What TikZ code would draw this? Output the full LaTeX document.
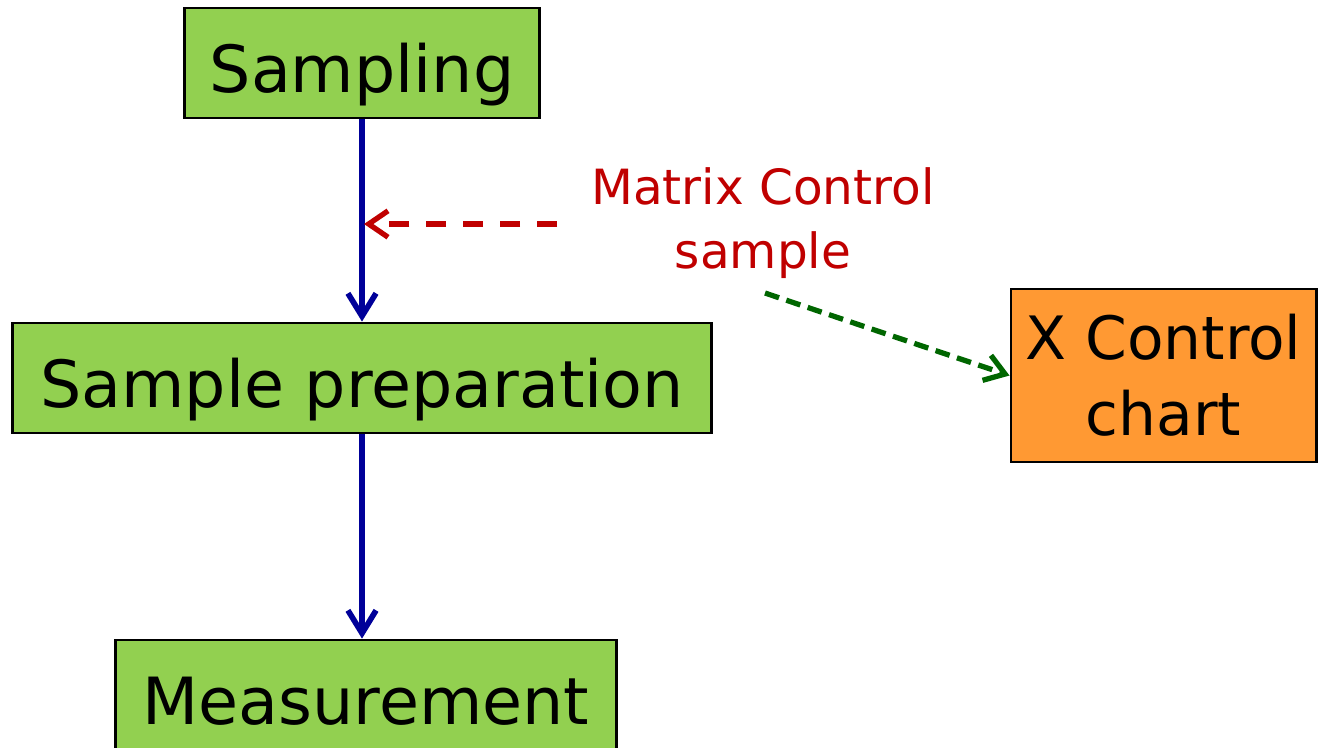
\documentclass[tikz,border=0pt]{standalone}
\usepackage{fontspec}
\setmainfont{DejaVu Sans}
\usetikzlibrary{arrows.meta}
\definecolor{boxgreen}{HTML}{92D050}
\definecolor{boxorange}{HTML}{FF9933}
\definecolor{flowblue}{HTML}{000099}
\definecolor{matrixred}{HTML}{C00000}
\definecolor{chartgreen}{HTML}{006600}
\begin{document}
\begin{tikzpicture}[x=0.01cm,y=-0.01cm,
    stepbox/.style={draw=black,line width=0.8pt,fill=boxgreen,inner sep=0pt,
      minimum height=1.1cm,text height=21pt,text depth=4.5pt,
      font=\fontsize{18.5}{21.6}\selectfont},
    flow/.style={draw=flowblue,line width=1.6pt,-{Straight Barb[length=6.5pt,width=8pt]}},
    matrixarrow/.style={draw=matrixred,line width=1.5pt,dash pattern=on 5.7pt off 4.8pt,
      -{Straight Barb[length=5.5pt,width=7.5pt]}},
    chartarrow/.style={draw=chartgreen,line width=1.5pt,dash pattern=on 4.2pt off 2.2pt,
      -{Straight Barb[length=5.5pt,width=7.5pt]}}]
  \useasboundingbox (0,0) rectangle (1318,747);
  \node[stepbox,minimum width=3.54cm] (sampling) at (362,63) {Sampling};
  \node[stepbox,minimum width=6.98cm] (prep) at (362,378) {Sample preparation};
  \node[stepbox,minimum width=5.0cm] (meas) at (366,695) {Measurement};
  \node[stepbox,fill=boxorange,minimum width=3.05cm,minimum height=1.73cm,align=center,
    text height=,text depth=,font=\fontsize{17}{21.6}\selectfont]
    (chart) at (1163.5,375.5) {X Control\\chart};
  \node[text=matrixred,align=center,inner sep=0pt,font=\fontsize{13.8}{18.2}\selectfont]
    (matrix) at (763,223) {Matrix Control\\sample};
  \coordinate (redstart) at (557,224);
  \coordinate (redend) at (364,224);
  \coordinate (greenstart) at (765,293);
  \begin{scope}
    \draw[flow] (sampling.south -| prep.north) to (prep.north);
    \draw[flow] (prep.south) to (prep.south |- meas.north);
    \draw[matrixarrow] (redstart) to (redend);
    \draw[chartarrow] (greenstart) to (chart.west);
  \end{scope}
\end{tikzpicture}
\end{document}
